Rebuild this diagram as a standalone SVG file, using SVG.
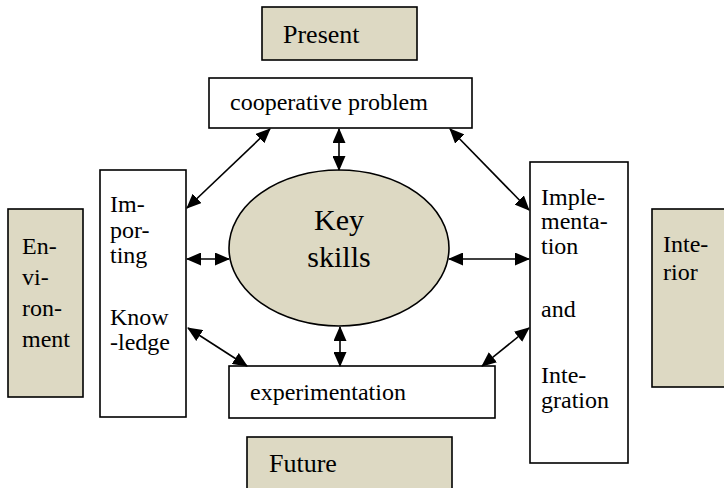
<svg xmlns="http://www.w3.org/2000/svg" width="724" height="488" viewBox="0 0 724 488">
<style>
.tan{fill:#ddd9c3;stroke:#000;stroke-width:1.6}
.wh{fill:#fff;stroke:#000;stroke-width:1.6}
text{font-family:'Liberation Serif','Times New Roman',serif;fill:#000}
.t26{font-size:26px}
.t24{font-size:24px}
.t30{font-size:30px}
.con line{stroke:#000;stroke-width:1.6;marker-start:url(#ah);marker-end:url(#ah)}
</style>
<defs>
<marker id="ah" markerUnits="userSpaceOnUse" markerWidth="15" markerHeight="13" refX="14" refY="6.5" orient="auto-start-reverse">
<path d="M0,0 L15,6.5 L0,13 Z" fill="#000"/>
</marker>
</defs>
<rect width="724" height="488" fill="#fff"/>
<g id="present"><rect class="tan" x="262" y="7" width="155" height="53"/><text class="t26" x="283" y="43">Present</text></g>
<g id="future"><rect class="tan" x="247" y="437" width="205" height="70"/><text class="t26" x="269" y="472">Future</text></g>
<g id="environment"><rect class="tan" x="8" y="209" width="75" height="188"/><text class="t24"><tspan x="22" y="254">En-</tspan><tspan x="22" y="285">vi-</tspan><tspan x="22" y="316">ron-</tspan><tspan x="22" y="347">ment</tspan></text></g>
<g id="interior"><rect class="tan" x="652" y="209" width="80" height="178"/><text class="t24"><tspan x="663" y="252">Inte-</tspan><tspan x="663" y="280">rior</tspan></text></g>
<g id="cooperative"><rect class="wh" x="209" y="78" width="263" height="50"/><text class="t24" x="230" y="110">cooperative problem</text></g>
<g id="experimentation"><rect class="wh" x="229" y="366" width="266" height="52"/><text class="t24" x="250" y="400">experimentation</text></g>
<g id="importing"><rect class="wh" x="100" y="170" width="86" height="247"/><text class="t24"><tspan x="110" y="212">Im-</tspan><tspan x="110" y="238">por-</tspan><tspan x="110" y="263">ting</tspan><tspan x="110" y="325">Know</tspan><tspan x="110" y="350">-ledge</tspan></text></g>
<g id="implementation"><rect class="wh" x="530" y="162" width="98" height="301"/><text class="t24"><tspan x="541" y="205">Imple-</tspan><tspan x="541" y="229">menta-</tspan><tspan x="541" y="254">tion</tspan><tspan x="541" y="317">and</tspan><tspan x="541" y="383">Inte-</tspan><tspan x="541" y="408">gration</tspan></text></g>
<g id="keyskills"><ellipse cx="339" cy="248" rx="110" ry="78" fill="#ddd9c3" stroke="#000" stroke-width="1.6"/><text class="t30" text-anchor="middle" x="339" y="230">Key</text><text class="t30" text-anchor="middle" x="339" y="267">skills</text></g>
<g id="connectors" class="con">
<line x1="187" y1="208" x2="270" y2="129"/>
<line x1="339" y1="129" x2="339" y2="170"/>
<line x1="450" y1="129" x2="529" y2="210"/>
<line x1="187" y1="259" x2="229" y2="259"/>
<line x1="449" y1="259" x2="529" y2="259"/>
<line x1="188" y1="328" x2="247" y2="366"/>
<line x1="340" y1="327" x2="340" y2="366"/>
<line x1="482" y1="366" x2="529" y2="328"/>
</g>
</svg>
